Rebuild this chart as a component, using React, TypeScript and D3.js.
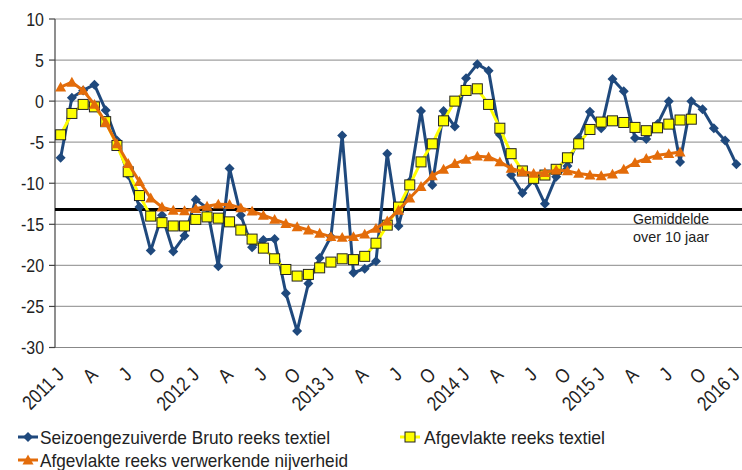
import React from "react";
import * as d3 from "d3";

const months = ["J","F","M","A","M","J","J","A","S","O","N","D"];
const startYear = 2011;
const nCats = 61;
const yTicks = [10, 5, 0, -5, -10, -15, -20, -25, -30];
const meanValue = -13.2;

const bruto = [-6.9,0.4,1.3,2.0,-1.1,-4.8,-9.0,-12.9,-18.2,-13.9,-18.3,-16.4,-12.0,-13.0,-20.1,-8.2,-13.9,-17.8,-16.9,-16.8,-23.4,-28.0,-22.2,-19.1,-16.5,-4.2,-20.9,-20.4,-19.5,-6.4,-15.2,-9.8,-1.2,-10.2,-1.2,-3.1,2.8,4.5,3.7,-4.1,-9.0,-11.2,-9.6,-12.5,-9.2,-7.9,-4.5,-1.3,-3.3,2.7,1.2,-4.5,-4.6,-2.8,0.0,-7.4,0.0,-1.0,-3.3,-4.8,-7.7];
const smoothTextiel = [-4.1,-1.5,-0.4,-0.7,-2.5,-5.4,-8.6,-11.5,-14.0,-14.8,-15.2,-15.2,-14.4,-14.1,-14.25,-14.7,-15.7,-16.8,-17.9,-19.2,-20.5,-21.3,-21.1,-20.3,-19.6,-19.2,-19.3,-18.9,-17.3,-15.1,-12.9,-10.2,-7.4,-5.2,-2.4,0.0,1.3,1.5,-0.4,-3.3,-6.4,-8.5,-9.4,-9.0,-8.3,-6.9,-5.2,-3.45,-2.55,-2.4,-2.6,-3.2,-3.6,-3.25,-2.8,-2.3,-2.2];
const smoothIndustry = [1.7,2.3,1.3,-0.4,-2.6,-5.2,-7.6,-9.8,-11.8,-12.9,-13.3,-13.35,-13.1,-12.8,-12.55,-12.6,-13.0,-13.4,-13.9,-14.4,-14.9,-15.3,-15.7,-16.1,-16.5,-16.6,-16.5,-16.2,-15.5,-14.6,-13.3,-11.8,-10.4,-9.1,-8.3,-7.6,-7.1,-6.7,-6.8,-7.4,-8.2,-8.6,-8.8,-8.7,-8.4,-8.5,-8.8,-9.0,-9.1,-8.9,-8.3,-7.5,-7.0,-6.6,-6.4,-6.2];

const seriesNames = [
  "Seizoengezuiverde Bruto reeks textiel",
  "Afgevlakte reeks textiel",
  "Afgevlakte reeks verwerkende nijverheid",
];
const meanLabel = ["Gemiddelde", "over 10 jaar"];

const FONT = "'Liberation Sans', Arial, sans-serif";
const BLUE = "#1F497D";
const YELLOW = "#FFFF00";
const ORANGE = "#E36C0A";
const SX = 0.84;

export default function App() {
  const W = 742, H = 470;
  const left = 55, right = 742, top = 19, bottom = 347.5;
  const idx = d3.range(nCats);
  const xb = d3.scaleBand<number>().domain(idx).range([left, right]).padding(0);
  const x = (i: number) => (xb(i) as number) + xb.bandwidth() / 2;
  const y = d3.scaleLinear().domain([-30, 10]).range([bottom, top]);
  const line = d3.line<number>().x((_, i) => x(i)).y((d) => y(d));

  const diamond = (cx: number, cy: number, r = 5) => `M${cx},${cy - r}L${cx + r},${cy}L${cx},${cy + r}L${cx - r},${cy}Z`;
  const tri = (cx: number, cy: number, r = 5.5) => `M${cx},${cy - r}L${cx + r},${cy + r * 0.8}L${cx - r},${cy + r * 0.8}Z`;

  const xLabels = idx.filter((i) => i % 3 === 0).map((i) => {
    const m = i % 12;
    const yr = startYear + Math.floor(i / 12);
    return { i, text: m === 0 ? `${yr} ${months[m]}` : months[m] };
  });

  return (
    <svg width={W} height={H} style={{ position: "absolute", left: 0, top: 0, background: "#fff" }} fontFamily={FONT}>
      {yTicks.map((t) => (
        <line key={t} x1={left} x2={right} y1={y(t)} y2={y(t)} stroke={t === -30 ? "#888" : "#A0A0A0"} strokeWidth={1.2} />
      ))}
      <line x1={left} x2={left} y1={top} y2={bottom} stroke="#444" strokeWidth={1.2} />
      {yTicks.map((t) => (
        <g key={"yt" + t}>
          <line x1={left - 6} x2={left} y1={y(t)} y2={y(t)} stroke="#444" strokeWidth={1.2} />
          <text transform={`translate(${left - 11},${y(t)}) scale(${SX},1)`} dy="0.36em" textAnchor="end" fontSize={19} fill="#222">{t}</text>
        </g>
      ))}
      {xLabels.map((d) => (
        <text key={"xl" + d.i} transform={`translate(${x(d.i) - 6},${bottom + 18}) rotate(-45) scale(${SX},1)`} textAnchor="end" dy="0.75em" fontSize={20} fill="#222">{d.text}</text>
      ))}
      <line x1={left} x2={right} y1={y(meanValue)} y2={y(meanValue)} stroke="#000" strokeWidth={3} />
      <text x={633} y={y(meanValue) + 14} fontSize={15} fill="#222" textLength={76} lengthAdjust="spacingAndGlyphs">{meanLabel[0]}</text>
      <text x={633} y={y(meanValue) + 32} fontSize={15} fill="#222" textLength={76} lengthAdjust="spacingAndGlyphs">{meanLabel[1]}</text>

      <path d={line(bruto) as string} fill="none" stroke={BLUE} strokeWidth={3} strokeLinejoin="round" />
      {bruto.map((v, i) => <path key={"b" + i} d={diamond(x(i), y(v))} fill={BLUE} />)}

      <path d={line(smoothTextiel) as string} fill="none" stroke={YELLOW} strokeWidth={3} strokeLinejoin="round" />
      {smoothTextiel.map((v, i) => <rect key={"s" + i} x={x(i) - 5} y={y(v) - 5} width={10} height={10} fill={YELLOW} stroke="#222" strokeWidth={1} />)}

      <path d={line(smoothIndustry) as string} fill="none" stroke={ORANGE} strokeWidth={3} strokeLinejoin="round" />
      {smoothIndustry.map((v, i) => <path key={"o" + i} d={tri(x(i), y(v))} fill={ORANGE} />)}

      <g>
        <line x1={18} x2={38} y1={437} y2={437} stroke={BLUE} strokeWidth={3} />
        <path d={diamond(28, 437)} fill={BLUE} />
        <text x={40} y={437} dy="0.36em" fontSize={19} fill="#222" textLength={290} lengthAdjust="spacingAndGlyphs">{seriesNames[0]}</text>
        <line x1={400} x2={420} y1={437} y2={437} stroke={YELLOW} strokeWidth={3} />
        <rect x={405} y={432} width={10} height={10} fill={YELLOW} stroke="#222" strokeWidth={1} />
        <text x={424} y={437} dy="0.36em" fontSize={19} fill="#222" textLength={181} lengthAdjust="spacingAndGlyphs">{seriesNames[1]}</text>
        <line x1={18} x2={38} y1={460} y2={460} stroke={ORANGE} strokeWidth={3} />
        <path d={tri(28, 460)} fill={ORANGE} />
        <text x={40} y={460} dy="0.36em" fontSize={19} fill="#222" textLength={308} lengthAdjust="spacingAndGlyphs">{seriesNames[2]}</text>
      </g>
    </svg>
  );
}
